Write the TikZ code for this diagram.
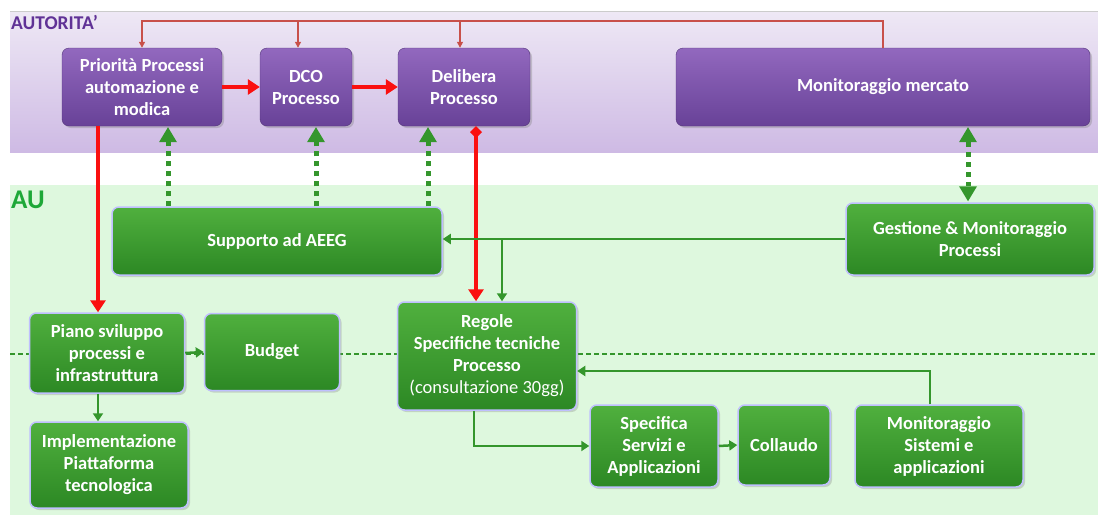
\documentclass[tikz,border=0pt]{standalone}
\usepackage{fontspec}
\setmainfont{Carlito}
\usetikzlibrary{arrows.meta,shadows,positioning,calc}

\definecolor{vioTop}{RGB}{146,104,190}
\definecolor{vioBot}{RGB}{104,66,152}
\definecolor{vioLbl}{RGB}{96,50,150}
\definecolor{grTop}{RGB}{80,176,62}
\definecolor{grBot}{RGB}{44,136,36}
\definecolor{grLine}{RGB}{52,150,44}
\definecolor{grLbl}{RGB}{30,168,56}
\definecolor{arrRed}{RGB}{250,16,16}
\definecolor{thinRed}{RGB}{200,80,74}
\definecolor{bandV}{RGB}{206,186,228}
\definecolor{bandVt}{RGB}{238,232,245}
\definecolor{bandG}{RGB}{222,248,222}

\tikzset{
  vbox/.style={rounded corners=7pt, top color=vioTop, bottom color=vioBot,
    draw=vioBot!80!black, text=white, align=center, inner sep=1pt,
    drop shadow={opacity=0.35, shadow xshift=2pt, shadow yshift=-2pt}},
  gbox/.style={rounded corners=7pt, top color=grTop, bottom color=grBot,
    draw=blue!25, line width=1.5pt, text=white, align=center, inner sep=1pt,
    drop shadow={opacity=0.3, shadow xshift=2pt, shadow yshift=-2pt}},
  redbig/.style={draw=arrRed, line width=4pt, -{Triangle[length=12pt,width=15pt]}},
  redthin/.style={draw=thinRed, line width=1.4pt, -{Triangle[length=6pt,width=6pt]}},
  grline/.style={draw=grLine, line width=2.5pt, -{Triangle[length=8pt,width=10pt]}},
  grdot/.style={draw=grLine, line width=5pt, dash pattern=on 5pt off 5pt},
  sepline/.style={draw=grLine, line width=1.5pt, dash pattern=on 5pt off 3pt}
}

\begin{document}
\begin{tikzpicture}[x=1pt, y=1pt, font=\bfseries\fontsize{18.5}{22}\selectfont]
\useasboundingbox (0,0) rectangle (1098,-520);

% bands
\shade[top color=bandVt, bottom color=bandV] (10,-12) rectangle (1098,-152);
\draw[gray!40, line width=1pt] (10,-11) -- (1098,-11);
\fill[bandG] (10,-185) rectangle (1098,-515);
\node[anchor=north west, inner sep=0pt, text=vioLbl, font=\bfseries\fontsize{19.5}{20}\selectfont] (lblA) at (11,-15) {AUTORITA’};
\node[anchor=north west, inner sep=0pt, text=grLbl, font=\bfseries\fontsize{27}{28}\selectfont] (lblB) at (11,-191) {AU};
\draw[sepline] (10,-354) -- (1098,-354);

% AUTORITA'
\node[vbox, minimum width=160pt, minimum height=78pt] (prio) at (142,-87) {Priorità Processi\\automazione e\\modica};
\node[vbox, minimum width=92pt, minimum height=78pt] (dco) at (306,-87) {DCO\\Processo};
\node[vbox, minimum width=132pt, minimum height=78pt] (deli) at (464,-87) {Delibera\\Processo};
\node[vbox, minimum width=414pt, minimum height=78pt] (merc) at (883,-87) {Monitoraggio mercato};

% AU
\node[gbox, minimum width=330pt, minimum height=68pt] (supp) at (277,-241) {Supporto ad AEEG};
\node[gbox, minimum width=248pt, minimum height=72pt] (gest) at (970,-239) {Gestione \& Monitoraggio\\Processi};
\node[gbox, minimum width=155pt, minimum height=80pt] (piano) at (107,-353) {Piano sviluppo\\processi e\\infrastruttura};
\node[gbox, minimum width=135pt, minimum height=77pt] (budg) at (272,-352) {Budget};
\node[gbox, minimum width=179pt, minimum height=108pt] (rego) at (487,-356) {Regole\\Specifiche tecniche\\Processo\\{\mdseries(consultazione 30gg)}};
\node[gbox, minimum width=158pt, minimum height=86pt] (impl) at (109,-465) {Implementazione\\Piattaforma\\tecnologica};
\node[gbox, minimum width=128pt, minimum height=82pt] (spec) at (654,-446) {Specifica\\Servizi e\\Applicazioni};
\node[gbox, minimum width=92pt, minimum height=80pt] (coll) at (784,-445) {Collaudo};
\node[gbox, minimum width=168pt, minimum height=82pt] (mons) at (939,-446) {Monitoraggio\\Sistemi e\\applicazioni};

% red links
\draw[redthin] (merc.north) -- ++(0,27) -| (prio.north);
\draw[redthin] ([xshift=-8pt]dco.north |- 0,-21) -- ([xshift=-8pt]dco.north);
\draw[redthin] ([xshift=-4pt]deli.north |- 0,-21) -- ([xshift=-4pt]deli.north);
\draw[redbig] (prio.east) -- (dco.west);
\draw[redbig] (dco.east) -- (deli.west);
\draw[redbig] ([xshift=-44pt]prio.south) -- ([xshift=-44pt]prio.south |- piano.north);
\draw[redbig, {Diamond[length=12pt,width=12pt]}-{Triangle[length=12pt,width=15pt]}] ([xshift=12pt]deli.south) -- ([xshift=12pt]deli.south |- rego.north);

% dotted links
\draw[grdot] ([xshift=-109pt]supp.north) -- ([xshift=-109pt,yshift=-14pt]supp.north |- prio.south);
\draw[grdot] ([xshift=39pt]supp.north) -- ([xshift=39pt,yshift=-14pt]supp.north |- dco.south);
\draw[grdot] ([xshift=151pt]supp.north) -- ([xshift=151pt,yshift=-14pt]supp.north |- deli.south);
\fill[grLine] ([xshift=-109pt]supp.north |- prio.south) ++(0,-1) -- ++(-9,-15) -- ++(18,0) -- cycle;
\fill[grLine] ([xshift=39pt]supp.north |- dco.south) ++(0,-1) -- ++(-9,-15) -- ++(18,0) -- cycle;
\fill[grLine] ([xshift=151pt]supp.north |- deli.south) ++(0,-1) -- ++(-9,-15) -- ++(18,0) -- cycle;
\draw[grdot] ([xshift=-2pt,yshift=-16pt]gest.north |- merc.south) -- ([xshift=-2pt,yshift=16pt]gest.north);
\fill[grLine] ([xshift=-2pt]gest.north |- merc.south) ++(0,-1) -- ++(-9,-15) -- ++(18,0) -- cycle;
\fill[grLine] ([xshift=-2pt]gest.north) ++(0,1) -- ++(-9,15) -- ++(18,0) -- cycle;

% green links
\draw[grline] (gest.west) -- (gest.west -| supp.east);
\draw[grline] ([xshift=15pt]rego.north |- gest.west) -- ([xshift=15pt]rego.north);
\draw[grline] (piano.east) -- (budg.west);
\draw[grline] ([xshift=-9pt]piano.south) -- ([xshift=-9pt]piano.south |- impl.north);
\draw[grline] ([xshift=-13pt]rego.south) |- (spec.west);
\draw[grline] (spec.east) -- (coll.west);
\draw[grline] ([xshift=-9pt]mons.north) |- ([yshift=-15pt]rego.east);
\end{tikzpicture}
\end{document}
